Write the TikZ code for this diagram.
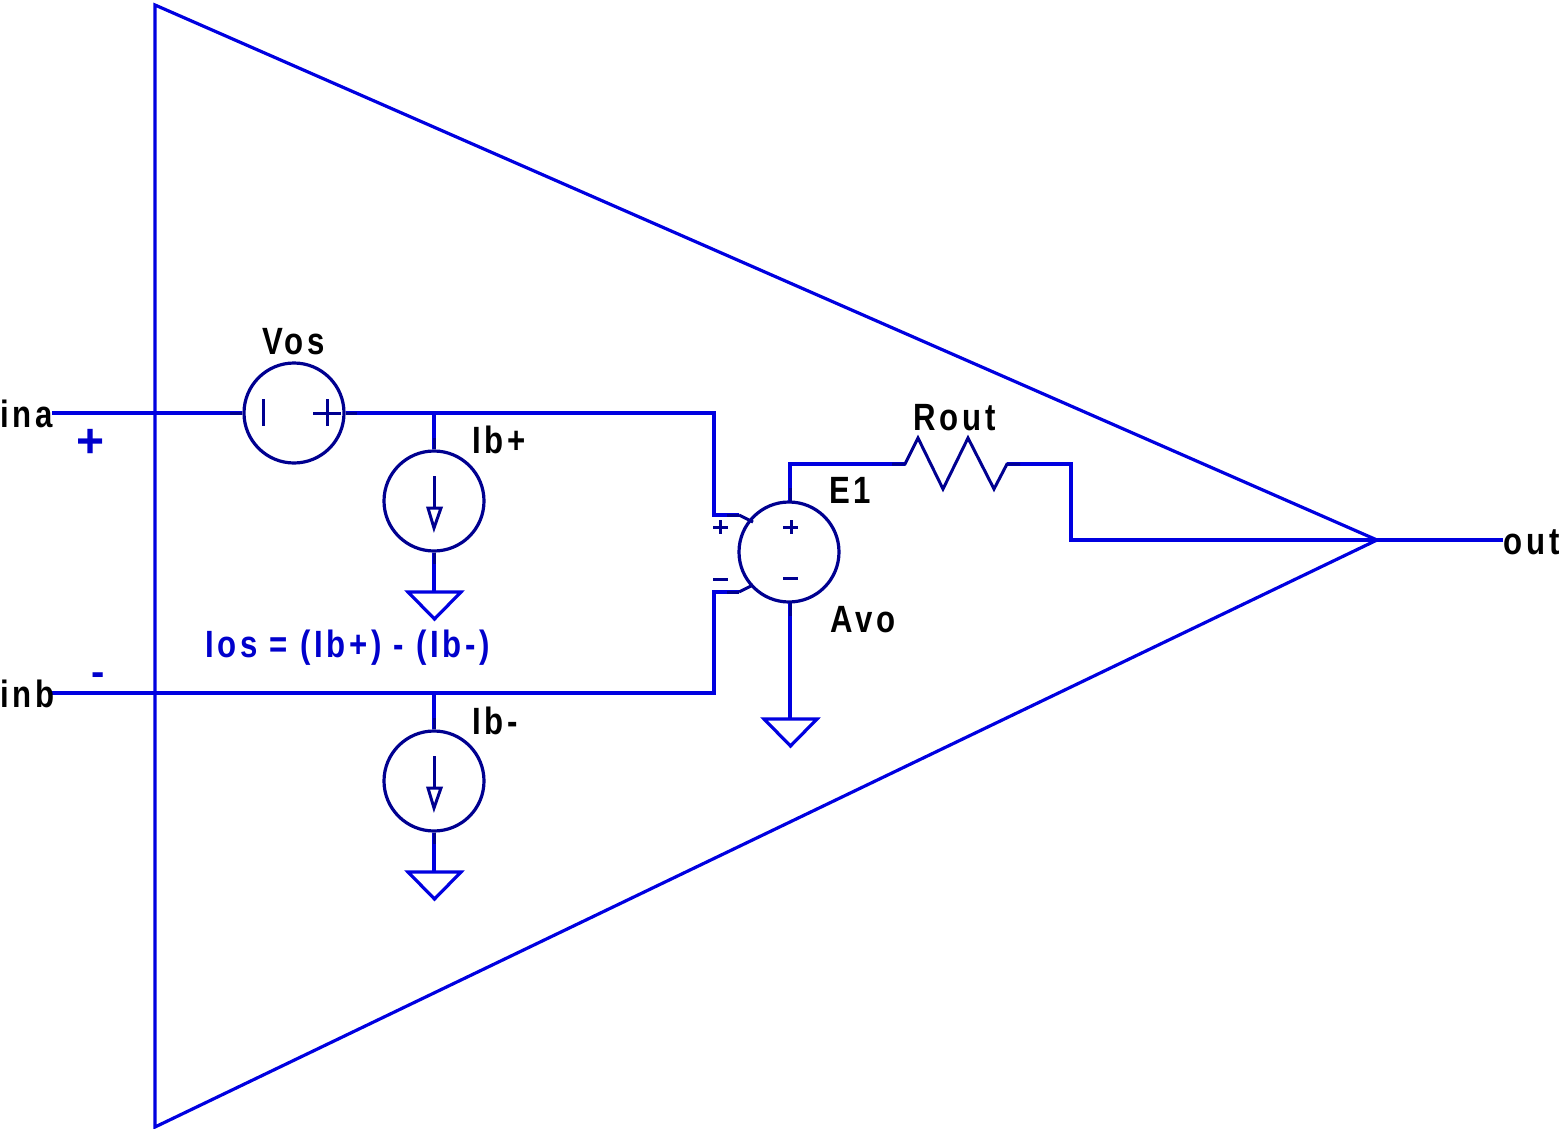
\documentclass[tikz,border=0pt]{standalone}
\usepackage{fontspec}
\newfontfamily\labfont[FakeStretch=0.82,LetterSpace=10]{Liberation Sans Bold}
\newfontfamily\notefont[FakeStretch=0.82,LetterSpace=9.5]{Liberation Sans Bold}
\newfontfamily\plainbold{Liberation Sans Bold}
\definecolor{wire}{HTML}{0000E0}
\definecolor{sym}{HTML}{000090}
\definecolor{note}{HTML}{0000CC}
\tikzset{
  x=0.5pt,y=-0.5pt,
  wireline/.style={draw=wire,line width=1.6pt,line join=miter},
  symline/.style={draw=sym,line width=1.5pt},
  srcbody/.style={circle,draw=sym,line width=1.6pt,minimum size=50pt,inner sep=0pt},
  lab/.style={anchor=base west,inner sep=0pt,font=\labfont\fontsize{19}{19}\selectfont,text=black},
  notelab/.style={anchor=base west,inner sep=0pt,font=\notefont\fontsize{19}{19}\selectfont,text=note},
  signlab/.style={anchor=center,inner sep=0pt,font=\plainbold\fontsize{24}{24}\selectfont,text=note},
  minuslab/.style={anchor=center,inner sep=0pt,font=\plainbold\fontsize{20}{20}\selectfont,text=note}
}
\begin{document}
\begin{tikzpicture}
\useasboundingbox (0,0) rectangle (1563,1129);
% amplifier outline
\coordinate (apexTop) at (155,5);
\coordinate (apexBot) at (155,1127);
\coordinate (apexOut) at (1377,540);
\draw[wireline] (apexTop) -- (apexOut) -- (apexBot) -- cycle;
% sources
\node[srcbody] (vos) at (294,413) {};
\node[srcbody] (ibp) at (434,501) {};
\node[srcbody] (ibm) at (434,781) {};
\node[srcbody] (eone) at (789,552) {};
% junctions and corners
\coordinate (inaEnd) at (52,413);
\coordinate (inbEnd) at (52,693);
\coordinate (outEnd) at (1503,540);
\coordinate (jp) at (434,413);
\coordinate (jm) at (434,693);
\coordinate (cTop) at (714,413);
\coordinate (cTopIn) at (714,515);
\coordinate (stubTop) at (739,515);
\coordinate (pinTop) at (753,522);
\coordinate (cBot) at (714,693);
\coordinate (cBotIn) at (714,592);
\coordinate (stubBot) at (739,592);
\coordinate (pinBot) at (753,585);
\coordinate (eTop) at (790,501);
\coordinate (eBot) at (790,603);
\coordinate (eCorner) at (790,464);
\coordinate (rA) at (905,464);
\coordinate (rB) at (1007,464);
\coordinate (rC) at (1071,464);
\coordinate (rD) at (1071,540);
% wires
\draw[wireline] (inaEnd) -- (vos.west);
\draw[wireline] (vos.east) -- (jp) -- (cTop) -- (cTopIn) -- (stubTop);
\draw[wireline] (inbEnd) -- (cBot) -- (cBotIn) -- (stubBot);
\draw[wireline] (jp) -- (ibp.north);
\draw[wireline] (jm) -- (ibm.north);
\draw[wireline] (eTop) -- (eCorner) -- (rA);
\draw[wireline] (rB) -- (rC) -- (rD) -- (apexOut) -- (outEnd);
% grounds
\coordinate (g1) at (434,591);
\coordinate (g2) at (434,871);
\coordinate (g3) at (790,718);
\draw[wireline] (ibp.south) -- (g1);
\draw[wireline] (ibm.south) -- (g2);
\draw[wireline] (eBot) -- (g3);
\draw[wireline] (408,592) -- (461,592) -- (434.5,619) -- cycle;
\draw[wireline] (408,872) -- (461,872) -- (434.5,899) -- cycle;
\draw[wireline] (764,719) -- (817,719) -- (790.5,746) -- cycle;
% navy pin stubs
\draw[symline] (230,413) -- (vos.west);
\draw[symline] (vos.east) -- (357,413);
\draw[symline] (434,438) -- (ibp.north);
\draw[symline] (ibp.south) -- (434,564);
\draw[symline] (434,718) -- (ibm.north);
\draw[symline] (ibm.south) -- (434,844);
\draw[symline] (stubTop) -- (pinTop);
\draw[symline] (stubBot) -- (pinBot);
\draw[symline] (727,515) -- (stubTop);
\draw[symline] (727,592) -- (stubBot);
\draw[symline] (790,488) -- (eTop);
\draw[symline] (eBot) -- (790,616);
% resistor
\draw[symline] (892,464) -- (rA) -- (918,438) -- (943,489) -- (968,438) -- (994,489) -- (rB) -- (1020,464);
% source glyphs
\draw[symline] (263,399) -- (263,426);
\draw[symline] (313,413) -- (341,413);
\draw[symline] (327,399) -- (327,426);
\draw[symline] (434,476) -- (434,508);
\draw[symline,line join=miter] (428,508) -- (441,508) -- (434,528) -- cycle;
\draw[symline] (434,756) -- (434,788);
\draw[symline,line join=miter] (428,788) -- (441,788) -- (434,808) -- cycle;
% small signs
\draw[symline] (783,527) -- (798,527) (791,520) -- (791,534);
\draw[symline] (783,578) -- (798,578);
\draw[symline] (713,527) -- (728,527) (720,520) -- (720,534);
\draw[symline] (713,579) -- (728,579);
% labels
\node[lab] (tVos) at (262,354) {Vos};
\node[lab] (tIna) at (0,427) {ina};
\node[lab] (tInb) at (0,707) {inb};
\node[lab] (tOut) at (1503,554) {out};
\node[lab] (tIbp) at (472,453) {Ib+};
\node[lab] (tIbm) at (472,734) {Ib-};
\node[lab] (tRout) at (913,430) {Rout};
\node[lab] (tE) at (829,503) {E1};
\node[lab] (tAvo) at (830,632) {Avo};
\node[notelab] (tIos) at (205,657) {Ios = (Ib+) - (Ib-)};
\node[signlab] (tPlus) at (91,443) {+};
\node[minuslab] (tMinus) at (98,679) {-};
\end{tikzpicture}
\end{document}
